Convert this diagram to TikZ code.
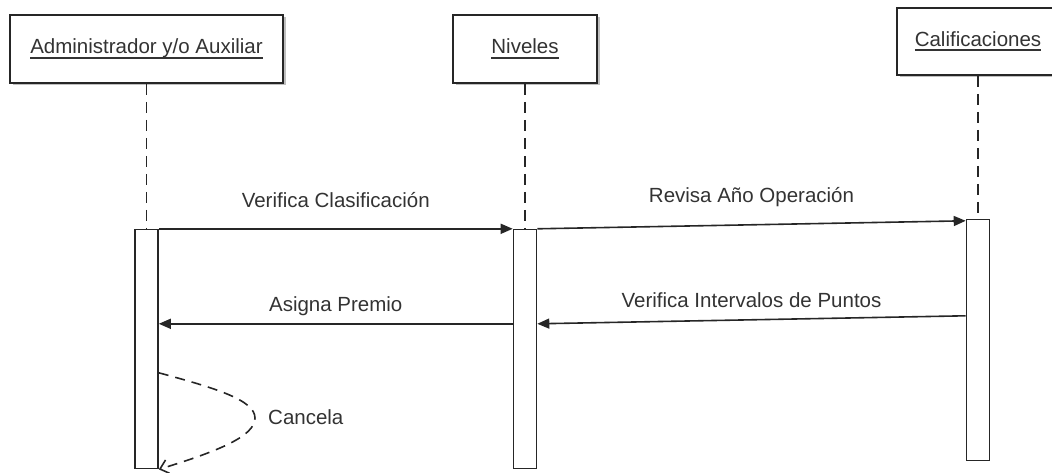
\documentclass[tikz,border=0pt]{standalone}
\usepackage{fontspec}
\setmainfont{Liberation Sans}
\usepackage{tikz}
\usetikzlibrary{arrows.meta,positioning,shadows}
\definecolor{trazo}{HTML}{262626}
\definecolor{texto}{HTML}{333333}
\newcommand{\subrayar}[1]{\setbox0\hbox{#1}\rlap{\vrule height -3pt depth 5pt width \wd0}\box0}
\tikzset{
  actor/.style={rectangle, draw=trazo, line width=1.6pt, fill=white, minimum height=68pt,
                font=\fontsize{20.5}{24}\selectfont, text=texto,
                drop shadow={shadow xshift=2.5pt, shadow yshift=-2.5pt, fill=gray, opacity=.5}},
  activ/.style={rectangle, draw=trazo, line width=1.6pt, fill=white, minimum width=23pt, inner sep=0pt},
  vida/.style={draw=trazo, line width=1.6pt, dash pattern=on 11pt off 7pt},
  msj/.style={-{Triangle[length=12pt, width=10pt]}, draw=trazo, line width=1.6pt},
  retorno/.style={-{Straight Barb[length=8pt, width=14pt]}, draw=trazo, line width=1.6pt,
                  dash pattern=on 10pt off 7pt},
  etiq/.style={font=\fontsize{20.5}{24}\selectfont, text=texto, anchor=base, inner sep=0pt},
}

\begin{document}
\begin{tikzpicture}[x=1pt, y=-1pt]
  \useasboundingbox (0,0) rectangle (1052,473);
  \clip (0,0) rectangle (1052,473);
  % objetos
  \node[actor, minimum width=273pt] (adm) at (146.5,49) {\subrayar{Administrador y/o Auxiliar}};
  \node[actor, minimum width=144pt] (niv) at (525,49) {\subrayar{Niveles}};
  \node[actor, minimum width=162pt, minimum height=67pt] (cal) at (978,41.5) {\subrayar{Calificaciones}};
  % activaciones
  \node[activ, minimum height=239pt, below=145pt of adm] (actA) {};
  \node[activ, minimum height=239pt, below=145pt of niv] (actB) {};
  \node[activ, minimum height=241pt, below=143pt of cal] (actC) {};
  \draw[vida] (adm) -- (actA); \draw[vida] (niv) -- (actB); \draw[vida] (cal) -- (actC);
  % mensajes
  \draw[msj] (actA.north east) -- (actB.north west)
     node[etiq, midway, yshift=21pt] (m1) {Verifica Clasificación};
  \draw[msj] (actB.north east) -- ([yshift=-2pt]actC.north west)
     node[etiq, midway, yshift=22pt] (m2) {Revisa Año Operación};
  \draw[msj] ([yshift=-97pt]actC.north west) -- ([yshift=-95pt]actB.north east)
     node[etiq, midway, yshift=12pt] (m3) {Verifica Intervalos de Puntos};
  \draw[msj] ([yshift=-95pt]actB.north west) -- ([yshift=-95pt]actA.north east)
     node[etiq, midway, yshift=12pt] (m4) {Asigna Premio};
  % cancela
  \coordinate (punta) at (255,418);
  \draw[retorno] ([yshift=-144pt]actA.north east) .. controls (215,388) and (255,400) .. (punta)
     .. controls (255,437) and (215,452) .. (actA.south east);
  \node[etiq, anchor=base west] (canc) at (268,424) {Cancela};
\end{tikzpicture}
\end{document}
